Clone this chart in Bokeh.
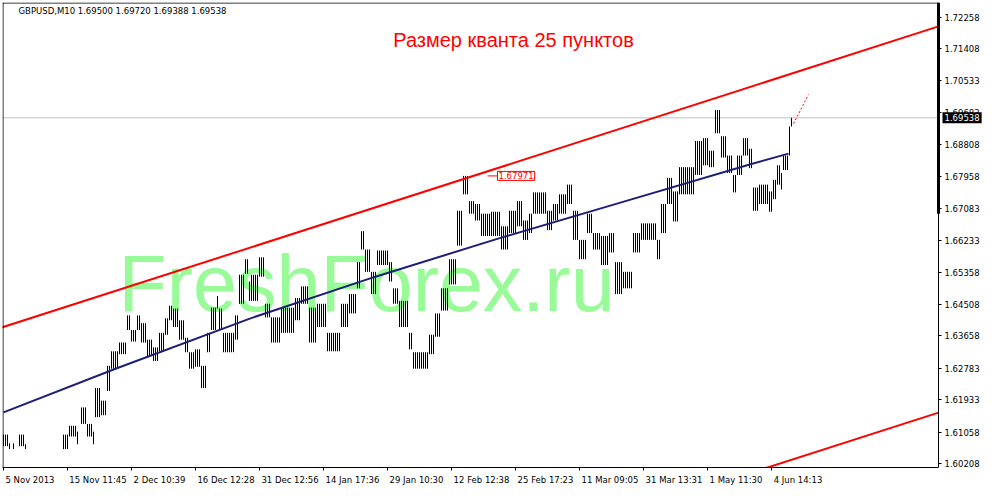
import math
from bokeh.plotting import figure
from bokeh.models import (Range1d, FixedTicker, PrintfTickFormatter, Label, Span,
                          BoxAnnotation, ColumnDataSource)
from bokeh.core.properties import value
from bokeh.embed import file_html
from bokeh.resources import INLINE

# ---------------- data ----------------
symbol_info = "GBPUSD,M10  1.69500 1.69720 1.69388 1.69538"
title_text = "Размер кванта 25 пунктов"
watermark = "FreshForex.ru"
last_close = 1.69538
marked_price = 1.67971
marked_bar = 247

price_ticks = [1.72258, 1.71408, 1.70533, 1.69683, 1.68808, 1.67958, 1.67083,
               1.66233, 1.65358, 1.64508, 1.63658, 1.62783, 1.61933, 1.61058, 1.60208]

time_tick_bars = [0, 32, 64, 96, 128, 160, 192, 224, 256, 288, 320, 352, 384]
time_labels = ["5 Nov 2013", "15 Nov 11:45", "2 Dec 10:39", "16 Dec 12:28",
               "31 Dec 12:56", "14 Jan 17:36", "29 Jan 10:30", "12 Feb 12:38",
               "25 Feb 17:23", "11 Mar 09:05", "31 Mar 13:31", "1 May 11:30", "4 Jun 14:13"]

# price series (quantum bars), grouped in runs: first bar, last bar, high, low
span_start = [0, 2.5, 5, 7.5, 10.5, 29.5, 32.5, 37, 38.5, 41.5,
              45, 46, 49, 51.5, 54, 58, 61.5, 64, 66.5, 69,
              71.5, 75, 77.5, 80.5, 83, 84.5, 87.5, 90.5, 93, 95.5,
              98.5, 101.5, 104, 107, 108, 110, 115.5, 118, 121, 122.5,
              123.5, 127.5, 130.5, 134, 139, 145.5, 149, 152.5, 156.5, 161.5,
              169, 173, 176.5, 179, 181, 184, 186.5, 192.5, 195, 198,
              202.5, 205, 213, 215.5, 219, 223, 226.5, 230, 233, 235.5,
              239, 244, 248.5, 253, 256.5, 260, 263, 265, 271.5, 275,
              278, 281.5, 285, 288, 291.5, 295, 299, 302.5, 305.5, 310,
              315, 319, 326.5, 329, 331.5, 335, 338, 345.5, 350, 353,
              355.5, 359, 362, 364.5, 367, 369.5, 372.5, 375, 378, 382.5,
              384.5, 387, 389, 390, 392.5, 394]
span_end = [2, 3, 5.5, 10, 11, 32, 36.5, 37.5, 41, 44.5,
            45.5, 48.5, 51, 53.5, 57.5, 61, 63.5, 66, 68.5, 71,
            74.5, 77, 80, 82.5, 84, 87, 90, 92.5, 95, 98,
            101, 103.5, 106.5, 107.5, 109.5, 115, 117.5, 120.5, 122, 123,
            127, 130, 133.5, 138.5, 145, 148.5, 152, 156, 161, 168.5,
            172.5, 176, 178.5, 180.5, 183.5, 186, 192, 194.5, 197.5, 202,
            204.5, 212.5, 215, 218.5, 222.5, 226, 229.5, 232.5, 235, 238.5,
            243.5, 248, 252.5, 256, 259.5, 262.5, 264.5, 271, 274.5, 277.5,
            281, 284.5, 287.5, 291, 294.5, 298.5, 302, 305, 309.5, 314.5,
            318.5, 326, 328.5, 331, 334.5, 337.5, 345, 349.5, 352.5, 355,
            358.5, 361.5, 364, 366.5, 369, 372, 374.5, 377.5, 382, 384,
            386.5, 388.5, 389.5, 392, 393.5, 394.5]
span_high = [1.60991, 1.60756, 1.60756, 1.60991, 1.60730, 1.60991, 1.61227, 1.61070, 1.61724, 1.61279,
             1.61070, 1.62246, 1.61906, 1.62847, 1.63239, 1.63475, 1.64207, 1.63814, 1.64207, 1.63997,
             1.63553, 1.63344, 1.63736, 1.64128, 1.64468, 1.64390, 1.64076, 1.63605, 1.63213, 1.63292,
             1.62847, 1.63736, 1.64416, 1.64729, 1.64390, 1.63736, 1.64207, 1.65304, 1.65723, 1.65121,
             1.65304, 1.65775, 1.64520, 1.64154, 1.64416, 1.64677, 1.64991, 1.64416, 1.64520, 1.63736,
             1.64520, 1.64782, 1.65644, 1.66481, 1.65984, 1.65383, 1.65958, 1.65644, 1.64938, 1.64599,
             1.63736, 1.63213, 1.63684, 1.64259, 1.64938, 1.65723, 1.67030, 1.67971, 1.67291, 1.67213,
             1.66951, 1.67004, 1.66611, 1.67030, 1.67291, 1.66768, 1.66951, 1.67526, 1.67030, 1.67213,
             1.67474, 1.67735, 1.67030, 1.66245, 1.66951, 1.66428, 1.66350, 1.66428, 1.65644, 1.65383,
             1.66428, 1.66690, 1.66245, 1.67213, 1.67918, 1.67552, 1.68206, 1.68912, 1.68990, 1.68650,
             1.69748, 1.69042, 1.68520, 1.67997, 1.68520, 1.68990, 1.68703, 1.67657, 1.67735, 1.67552,
             1.67866, 1.68258, 1.68049, 1.68520, 1.69304, 1.69538]
span_low = [1.60678, 1.60599, 1.60599, 1.60678, 1.60599, 1.60599, 1.60939, 1.60730, 1.61279, 1.60939,
            1.60730, 1.61462, 1.61514, 1.62168, 1.62769, 1.63161, 1.63814, 1.63501, 1.63814, 1.63475,
            1.63109, 1.62978, 1.63239, 1.63684, 1.64076, 1.63893, 1.63553, 1.63213, 1.62769, 1.62821,
            1.62246, 1.63213, 1.63814, 1.64390, 1.63814, 1.63213, 1.63553, 1.64520, 1.65331, 1.64599,
            1.64599, 1.65252, 1.64154, 1.63475, 1.63736, 1.64076, 1.64520, 1.63475, 1.63893, 1.63239,
            1.63893, 1.64259, 1.64938, 1.65984, 1.65383, 1.64782, 1.65566, 1.65121, 1.64520, 1.63893,
            1.63292, 1.62769, 1.63161, 1.63631, 1.64337, 1.65043, 1.66089, 1.67474, 1.66951, 1.66768,
            1.66350, 1.66350, 1.65984, 1.66428, 1.66611, 1.66245, 1.66428, 1.66951, 1.66507, 1.66768,
            1.66951, 1.67213, 1.66245, 1.65723, 1.66428, 1.65984, 1.65566, 1.65906, 1.64782, 1.64938,
            1.65906, 1.66245, 1.65723, 1.66428, 1.67213, 1.66742, 1.67474, 1.67997, 1.68258, 1.68206,
            1.69121, 1.68467, 1.68049, 1.67526, 1.67997, 1.68520, 1.68180, 1.67030, 1.67213, 1.67004,
            1.67343, 1.67735, 1.67605, 1.68128, 1.68520, 1.69304]

# regression curve (navy)
reg_bars = [0, 56, 123.5, 186, 248.5, 311, 373.5, 392.5]
reg_prices = [1.61592, 1.62769, 1.64128, 1.65252, 1.66298, 1.67291, 1.68284, 1.68572]
# channel lines (red)
upper_bars = [-1, 477]
upper_prices = [1.63880, 1.72171]
lower_bars = [370, 477]
lower_prices = [1.59895, 1.61749]
# dotted projection (red)
proj_bars = [395, 402.5]
proj_prices = [1.69382, 1.70166]

# ---------------- layout ----------------
FRAME_W, FRAME_H = 980, 465
PXB = 2.0                      # pixels per bar
X0 = -0.5
X1 = X0 + FRAME_W / PXB
AXIS_X = 467.5                 # where the price scale sits
Y0, Y1 = 1.60103, 1.72650
PPY = FRAME_H / (Y1 - Y0)
FONT = "DejaVu Sans"
FS = 8.5

p = figure(frame_width=FRAME_W, frame_height=FRAME_H,
           x_range=Range1d(X0, X1), y_range=Range1d(Y0, Y1),
           output_backend="svg", toolbar_location=None,
           y_axis_location="right", x_axis_location="below",
           min_border_left=2, min_border_top=2, min_border_right=0, min_border_bottom=0)
p.background_fill_color = "white"
p.border_fill_color = "white"
p.outline_line_color = None
p.xgrid.visible = False
p.ygrid.visible = False

# y axis (price scale inside the canvas, at AXIS_X)
ya = p.yaxis[0]
ya.fixed_location = AXIS_X
ya.ticker = FixedTicker(ticks=price_ticks, minor_ticks=[])
ya.formatter = PrintfTickFormatter(format="%.5f")
ya.major_tick_out = 3
ya.major_tick_in = 0
ya.minor_tick_out = 0
ya.minor_tick_in = 0
ya.major_label_standoff = 3
ya.major_label_text_font = FONT
ya.major_label_text_font_size = f"{FS}px"
ya.major_label_text_color = "black"
ya.axis_line_color = "black"
ya.major_tick_line_color = "black"

# x axis: tick marks at bars, labels left-aligned after them
DJ = {' ': .318, ':': .337, '.': .318, 'N': .748, 'o': .612, 'v': .592, 'D': .770,
      'e': .615, 'c': .550, 'J': .295, 'a': .613, 'n': .634, 'F': .575, 'b': .635,
      'M': .863, 'r': .411, 'y': .592, 'u': .634}
def text_w(s):
    return sum(DJ.get(ch, .636) for ch in s) * FS

centers = [round((t + (2 + text_w(lbl) / 2) / PXB) * 4) / 4 for t, lbl in zip(time_tick_bars, time_labels)]
xa = p.xaxis[0]
xa.bounds = (X0, AXIS_X)
xa.ticker = FixedTicker(ticks=centers, minor_ticks=time_tick_bars)
xa.major_label_overrides = {c: lbl for c, lbl in zip(centers, time_labels)}
xa.major_tick_out = 0
xa.major_tick_in = 0
xa.minor_tick_out = 3
xa.minor_tick_in = 0
xa.minor_tick_line_color = "black"
xa.major_label_standoff = 4
xa.major_label_text_font = FONT
xa.major_label_text_font_size = f"{FS}px"
xa.major_label_text_color = "black"
xa.axis_line_color = "black"

# chart borders (left and top)
p.add_layout(Span(location=X0 + 0.25, dimension="height", line_color="black", line_width=1))
top_y = Y1 - 0.5 / PPY
p.line([X0, AXIS_X], [top_y, top_y], line_color="black", line_width=1)

# watermark
p.text(x=[57.5], y=[1.65060], text=[watermark], text_font=value("Liberation Sans"),
       text_font_size=value("79px"), text_color="#98fb98", text_align="left",
       text_baseline="alphabetic")

# last price line
p.line([X0, AXIS_X], [last_close, last_close], line_color="#c0c0c0", line_width=1)

# price bars
sb, slo, shi = [], [], []
for b1, b2, hi, lo in zip(span_start, span_end, span_high, span_low):
    for b in range(math.ceil(b1), math.floor(b2) + 1):
        sb.append(b); slo.append(lo); shi.append(hi)
src = ColumnDataSource(dict(b=sb, lo=slo, hi=shi))
p.segment(x0="b", x1="b", y0="lo", y1="hi", source=src, line_color="black", line_width=1)

# lines (clipped at the price scale)
def clip_line(bx, py):
    (a, b), (u, v) = bx, py
    if b > AXIS_X:
        v = u + (v - u) * (AXIS_X - a) / (b - a)
        b = AXIS_X
    return [a, b], [u, v]

ux, uy = clip_line(upper_bars, upper_prices)
lx, ly = clip_line(lower_bars, lower_prices)
p.line(ux, uy, line_color="#ff0000", line_width=2)
p.line(lx, ly, line_color="#ff0000", line_width=2)
p.line(reg_bars, reg_prices, line_color="#1e1e78", line_width=2)
p.line(proj_bars, proj_prices, line_color="#ff0000", line_width=1, line_dash="2 2")

# marked price label with leader
p.line([marked_bar - 5, marked_bar], [marked_price, marked_price], line_color="#ff0000", line_width=1)
p.add_layout(Label(x=marked_bar, y=marked_price, text=f"{marked_price:.5f}",
                   text_align="left", text_baseline="middle", text_color="#ff0000",
                   text_font=FONT, text_font_size=f"{FS}px",
                   border_line_color="#ff0000", background_fill_color="white", padding=1))

# header info and title
p.add_layout(Label(x=7.5, y=1.72428, text=symbol_info, text_align="left", text_baseline="middle",
                   text_font=FONT, text_font_size=f"{FS}px", text_color="black"))
p.add_layout(Label(x=255, y=1.71630, text=title_text, text_align="center", text_baseline="middle",
                   text_font="Liberation Sans", text_font_size="20px", text_color="#ff0000"))

# thick marker on the upper part of the price scale
p.add_layout(BoxAnnotation(left=AXIS_X - 0.75, right=AXIS_X + 0.75, top=Y1, bottom=1.66951,
                           fill_color="black", fill_alpha=1, line_alpha=0))

# current price box on price scale
p.add_layout(Label(x=AXIS_X, y=last_close, text=f"{last_close:.5f}", x_offset=4,
                   text_align="left", text_baseline="middle", text_color="white",
                   text_font=FONT, text_font_size=f"{FS}px",
                   background_fill_color="black", padding=2))

open("out.html", "w").write(file_html(p, INLINE))
